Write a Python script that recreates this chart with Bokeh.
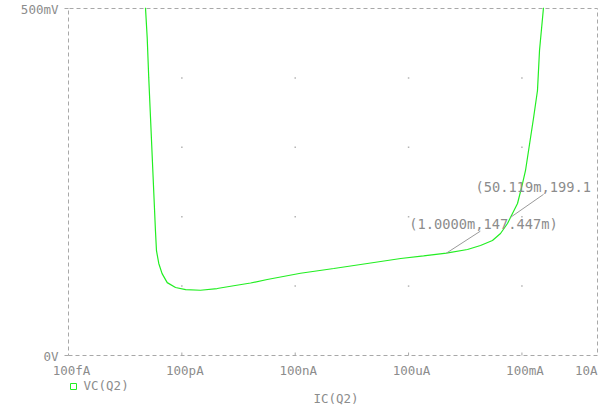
from bokeh.plotting import figure
from bokeh.models import Range1d
from bokeh.embed import file_html
from bokeh.resources import INLINE
import math

# ---- data ----
ic_amps = [1.09e-11, 1.21e-11, 1.33e-11, 1.48e-11, 2.0e-11, 2.13e-11, 2.45e-11, 3.0e-11,
           4.1e-11, 6.8e-11, 1.26e-10, 3.1e-10, 8.6e-10, 2.35e-9, 6.6e-9, 1.82e-8,
           1.38e-7, 1.05e-6, 8.1e-6, 6.2e-5, 2.5e-4, 1.0e-3, 3.62e-3, 8.0e-3,
           1.66e-2, 2.71e-2, 4.15e-2, 5.0119e-2, 7.64e-2, 0.1035, 0.1245, 0.202,
           0.258, 0.292, 0.372]
vc_mv = [501, 458, 400, 343, 180, 151, 132.6, 118,
         105, 98, 95, 94, 96.5, 100.5, 104.5, 109.5,
         118.5, 125.4, 132.6, 139.8, 143.5, 147.447, 152.7, 158.5,
         165.7, 175.8, 190.2, 199.1, 219, 247.8, 266.6, 341.5,
         381.8, 439.5, 501]

x_ticks = [1e-13, 1e-10, 1e-7, 1e-4, 1e-1, 1e1]
x_tick_labels = ["100fA", "100pA", "100nA", "100uA", "100mA", "10A"]
y_ticks = [0, 500]
y_tick_labels = ["0V", "500mV"]
grid_x = [1e-10, 1e-7, 1e-4, 1e-1]
grid_y = [100, 200, 300, 400]

marker_x = [1.0e-3, 5.0119e-2]
marker_y = [147.447, 199.1]
marker_text = ["(1.0000m,147.447m)", "(50.119m,199.1"]

series_name = "VC(Q2)"
x_title = "IC(Q2)"

# ---- layout (pixel geometry of the plot box) ----
W, H = 600, 408
FL, FR, FT, FB = 68, 597, 8, 355   # plot box edges in page pixels
XLO, XHI = math.log10(x_ticks[0]), math.log10(x_ticks[-1])
YLO, YHI = y_ticks[0], y_ticks[-1]
ppd = (FR - FL) / (XHI - XLO)     # pixels per decade
ppm = (FB - FT) / (YHI - YLO)     # pixels per mV

def xdata(px):
    return 10 ** (XLO + (px - FL) / ppd)

def ydata(py):
    return YLO + (FB - py) / ppm

FONT = "DejaVu Sans Mono"
FS = "12.5px"
FSM = "13.7px"
GRAY = "#8c8c8c"
BORDER = "#a8a8a8"
GREEN = "#22ee22"

p = figure(width=W, height=H, x_axis_type="log",
           x_range=Range1d(xdata(0), xdata(W)),
           y_range=Range1d(ydata(H), ydata(0)),
           output_backend="svg", toolbar_location=None, min_border=0)
p.xaxis.visible = False
p.yaxis.visible = False
p.xgrid.visible = False
p.ygrid.visible = False
p.outline_line_color = None
p.background_fill_color = "white"
p.border_fill_color = "white"

x0, x1 = x_ticks[0], x_ticks[-1]
y0, y1 = y_ticks[0], y_ticks[-1]

# dashed plot box
p.line([x0, x1, x1, x0, x0], [y0, y0, y1, y1, y0],
       line_color=BORDER, line_dash="4 3", line_width=1)

# tick marks: y ticks outward on the left, x ticks inward at the bottom
p.segment(x0=[xdata(FL - 4)] * len(y_ticks), y0=y_ticks, x1=[x0] * len(y_ticks), y1=y_ticks,
          line_color=BORDER, line_width=1)
p.segment(x0=x_ticks[1:-1], y0=[y0] * 4, x1=x_ticks[1:-1], y1=[ydata(FB - 3)] * 4,
          line_color=BORDER, line_width=1)

# tick labels
p.text(x=x_ticks[:-1], y=[y0] * 5, text=x_tick_labels[:-1], x_offset=3, y_offset=15,
       text_align="center", text_baseline="middle",
       text_font={"value": FONT}, text_font_size=FS, text_color=GRAY)
p.text(x=[x_ticks[-1]], y=[y0], text=[x_tick_labels[-1]], x_offset=0, y_offset=15,
       text_align="right", text_baseline="middle",
       text_font={"value": FONT}, text_font_size=FS, text_color=GRAY)
p.text(x=[x0] * 2, y=y_ticks, text=y_tick_labels, x_offset=-10, y_offset=1,
       text_align="right", text_baseline="middle",
       text_font={"value": FONT}, text_font_size=FS, text_color=GRAY)

# axis title
p.text(x=[math.sqrt(x0 * x1)], y=[y0], text=[x_title], x_offset=3, y_offset=43,
       text_align="center", text_baseline="middle",
       text_font={"value": FONT}, text_font_size=FS, text_color=GRAY)

# grid dots
gxs = [gx for gy in grid_y for gx in grid_x]
gys = [gy for gy in grid_y for gx in grid_x]
p.scatter(gxs, gys, marker="square", size=1.5, color="#b4b4b4", line_color=None)

# curve
p.line(ic_amps, vc_mv, line_color=GREEN, line_width=1.2)

# markers with leader lines
leader = [(34, 22), (33, 23)]
text_off = [(-37, -29), (-35, -30)]
for mx, my, mt, (dx, dy), (tx, ty) in zip(marker_x, marker_y, marker_text, leader, text_off):
    p.line([mx, mx * 10 ** (dx / ppd)], [my, my + dy / ppm],
           line_color="#9a9a9a", line_width=1)
    p.text(x=[mx], y=[my], text=[mt], x_offset=tx, y_offset=ty,
           text_align="left", text_baseline="middle",
           text_font={"value": FONT}, text_font_size=FSM, text_color=GRAY)

# legend entry below the axis labels: green open square + series name
p.scatter([xdata(FL + 5)], [ydata(FB + 31)], marker="square", size=6, fill_color=None,
          line_color=GREEN, line_width=1)
p.text(x=[x0], y=[y0], text=[series_name], x_offset=15, y_offset=30,
       text_align="left", text_baseline="middle",
       text_font={"value": FONT}, text_font_size=FS, text_color=GRAY)

open("out.html", "w").write(file_html(p, INLINE))
